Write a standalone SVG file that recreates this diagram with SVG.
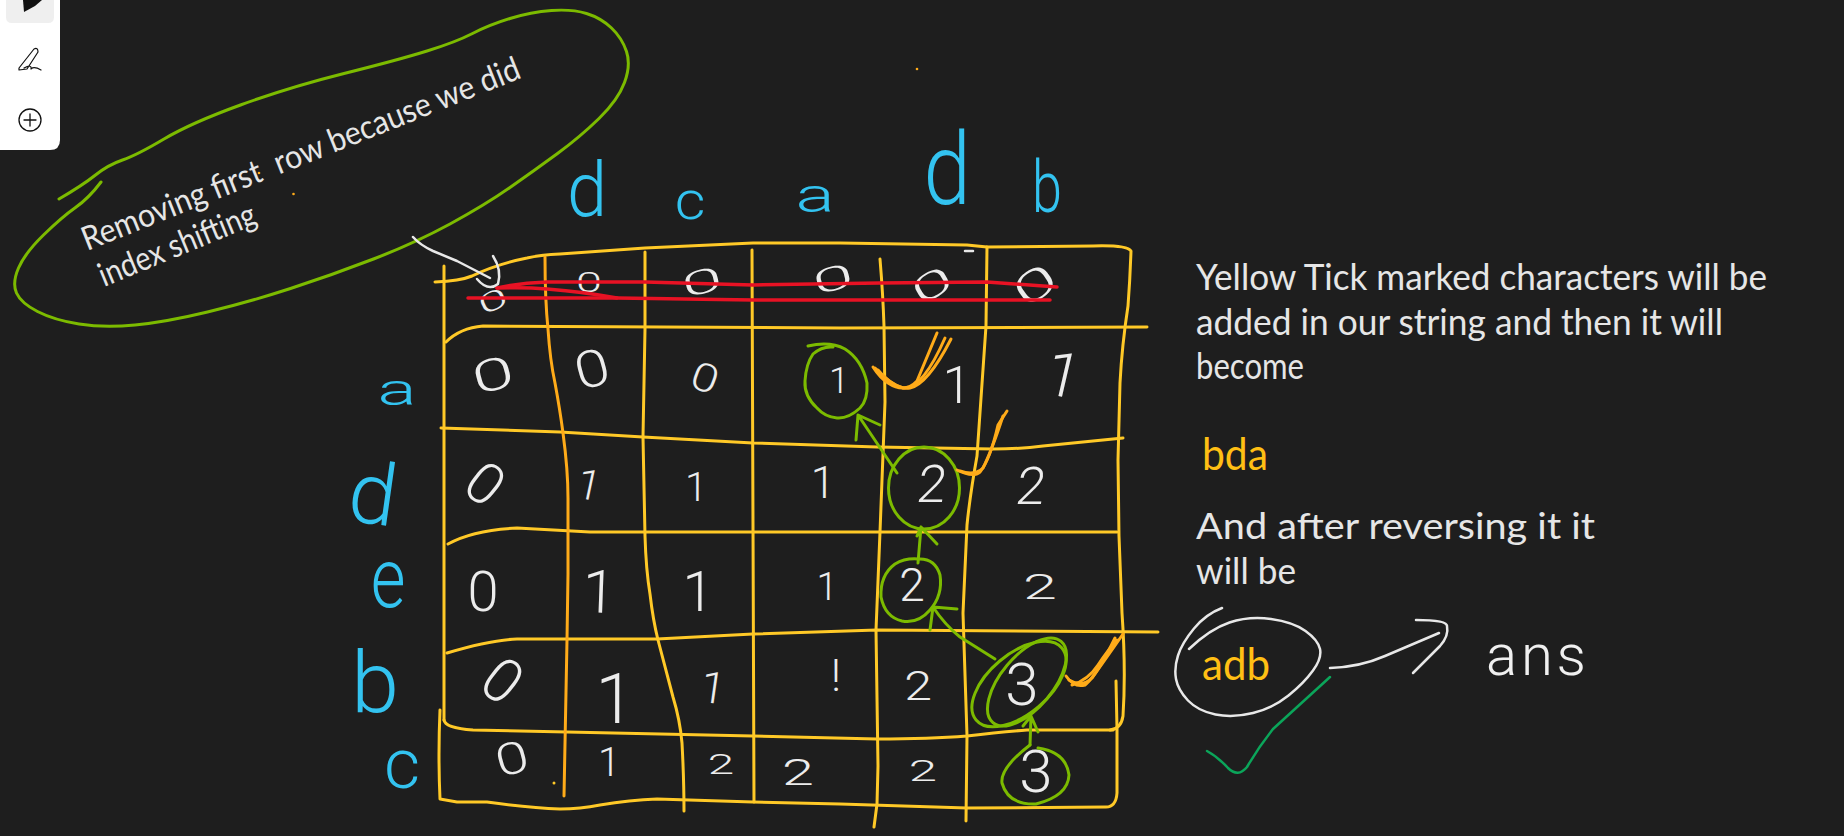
<svg xmlns="http://www.w3.org/2000/svg" width="1844" height="836" viewBox="0 0 1844 836">
<style>
.ink{fill:none;stroke-linecap:round;stroke-linejoin:round}
.y{stroke:#ffc927;stroke-width:3}
.o{stroke:#ffab19;stroke-width:3}
.g{stroke:#7cbb00;stroke-width:3}
.r{stroke:#e81224;stroke-width:3.5}
.w{stroke:#e8e8e8;stroke-width:2.5}
.t{font-family:"Lato","Liberation Sans",sans-serif;fill:#e6e6e6}
.n{font-family:"Roboto","Liberation Sans",sans-serif;font-weight:300;fill:#ececec;text-anchor:middle;dominant-baseline:central}
.b{font-family:"Roboto","Liberation Sans",sans-serif;font-weight:300;fill:#33c3f0;text-anchor:middle;dominant-baseline:central}
.a{font-family:"Lato","Liberation Sans",sans-serif;fill:#ffbf14}
</style>
<rect width="1844" height="836" fill="#1e1e1e"/>

<g id="toolbar">
<path d="M0 0H60V140Q60 150 50 150H0Z" fill="#fff"/>
<path d="M6 0H54V17Q54 23 48 23H12Q6 23 6 17Z" fill="#efefef"/>
<path d="M23 0H42L35 6L24 12Z" fill="#111"/>
<path class="ink" stroke="#111" stroke-width="1.2" d="M19 68L34 49Q38 47 38 52L27 69L19 70ZM24 68Q32 64 31 69Q34 66 41 70"/>
<circle cx="30" cy="120" r="11" fill="none" stroke="#111" stroke-width="1.3"/>
<path class="ink" stroke="#111" stroke-width="1.3" d="M24 120H36M30 114V126"/>
</g>

<g id="grid">
<path class="ink y" d="M435 282Q460 281 472 276Q497 264 527 258Q540 255 560 254L645 248L753 243L840 243L967 245L987 247L1093 246Q1127 245 1131 251Q1130 280 1128 306Q1122 345 1120 383L1118 460L1119 536L1122 613Q1126 670 1123 716Q1121 729 1110 730"/>
<path class="ink y" d="M446 342Q460 328 483 326L840 328L1147 327"/>
<path class="ink y" d="M441 428L560 432L643 437L753 443L877 447L993 449Q1020 449 1043 446L1123 438"/>
<path class="ink y" d="M448 544Q473 530 517 528L590 532L1117 532"/>
<path class="ink y" d="M447 653Q490 640 517 639L657 639L753 634L877 630L1158 632"/>
<path class="ink y" d="M444 720Q445 728 473 730L567 732L753 736L877 739Q930 739 967 736Q1000 732 1027 730L1113 730"/>
<path class="ink y" d="M440 710Q438 755 440 799L457 802L487 802Q530 808 560 809Q580 809 600 805Q630 800 657 799L753 802L840 804L967 808L1106 807Q1116 807 1117 793L1117 729L1116 681"/>
<path class="ink y" d="M444 266V720"/>
<path class="ink o" d="M545 257Q545 300 548 329Q550 360 555 383Q560 410 563 433Q568 470 568 498L568 574L567 640L564 796"/>
<path class="ink y" d="M645 252L645 329L643 437L645 536Q646 570 650 594Q653 620 658 640Q666 670 673 697Q680 720 682 743Q684 780 684 811"/>
<path class="ink y" d="M752 250L754 802"/>
<path class="ink y" d="M880 259Q883 295 884 326L885 402L880 532L876 630L878 766L877 804L874 827"/>
<path class="ink y" d="M987 247L986 326L977 456Q970 495 967 525L963 613L967 736L966 821"/>
<path class="ink w" stroke-width="2" d="M965 251H973"/>
</g>

<g id="cells">
<text class="n" font-size="38" transform="translate(493 301) rotate(-25) scale(1.4 .7)">0</text>
<text class="n" font-size="36" transform="translate(589 283) scale(1.3 .75)">0</text>
<text class="n" font-size="46" transform="translate(702 282) rotate(-15) scale(1.6 .72)">0</text>
<text class="n" font-size="46" transform="translate(833 279) rotate(-15) scale(1.6 .72)">0</text>
<text class="n" font-size="50" transform="translate(932 285) rotate(-30) scale(1.5 .72)">0</text>
<text class="n" font-size="58" transform="translate(1035 285) rotate(-35) scale(1.35 .72)">0</text>
<text class="n" font-size="52" transform="translate(493 375) rotate(-15) scale(1.45 .85)">0</text>
<text class="n" font-size="54" transform="translate(592 369) rotate(-15) scale(1.15 .95)">0</text>
<text class="n" font-size="46" transform="translate(705 378) rotate(20) scale(1.05 .85)">0</text>
<text class="n" font-size="36" x="839" y="381">1</text>
<text class="n" font-size="52" x="957" y="385">1</text>
<text class="n" font-size="62" transform="translate(1063 375) rotate(13)">1</text>
<text class="n" font-size="58" transform="translate(485 484) rotate(38) scale(1 1)">0</text>
<text class="n" font-size="42" transform="translate(589 485) rotate(12)">1</text>
<text class="n" font-size="40" x="696" y="487">1</text>
<text class="n" font-size="44" x="823" y="483">1</text>
<text class="n" font-size="52" transform="translate(932 485) skewX(-8)">2</text>
<text class="n" font-size="52" transform="translate(1031 487) skewX(-8)">2</text>
<text class="n" font-size="56" x="483" y="592">0</text>
<text class="n" font-size="60" transform="translate(599 592) rotate(2)">1</text>
<text class="n" font-size="56" x="698" y="592">1</text>
<text class="n" font-size="38" x="827" y="587">1</text>
<text class="n" font-size="46" x="912" y="585">2</text>
<text class="n" font-size="36" transform="translate(1040 586) scale(1.7 1)">2</text>
<text class="n" font-size="62" transform="translate(502 681) rotate(38) scale(.95 1)">0</text>
<text class="n" font-size="70" x="615" y="699">1</text>
<text class="n" font-size="44" transform="translate(713 688) rotate(8)">1</text>
<text class="n" font-size="44" x="836" y="676">!</text>
<text class="n" font-size="40" transform="translate(918 686) scale(1.25 1)">2</text>
<text class="n" font-size="60" x="1022" y="684">3</text>
<text class="n" font-size="44" transform="translate(512 759) rotate(-15) scale(1.35 1)">0</text>
<text class="n" font-size="40" x="609" y="762">1</text>
<text class="n" font-size="28" transform="translate(721 765) scale(1.7 1)">2</text>
<text class="n" font-size="36" transform="translate(798 773) scale(1.6 1)">2</text>
<text class="n" font-size="30" transform="translate(923 771) scale(1.7 1)">2</text>
<text class="n" font-size="60" x="1036" y="771">3</text>
</g>

<g id="strike">
<path class="ink r" d="M497 288Q520 283 547 282L645 282L753 285L880 283L987 282L1057 287"/>
<path class="ink r" d="M468 298L617 298L753 300L1050 300"/>
<path class="ink r" d="M497 288Q525 287 547 289Q585 292 617 298"/>
</g>

<g id="col-labels">
<text class="b" font-size="76" transform="translate(587 190) scale(.95 1)">d</text>
<text class="b" font-size="54" transform="translate(690 200) scale(1.1 1)">c</text>
<text class="b" font-size="56" transform="translate(815 196) scale(1.3 .85)">a</text>
<text class="b" font-size="100" transform="translate(947 170) scale(.85 1)">d</text>
<text class="b" font-size="72" transform="translate(1047 188) scale(.75 1)">b</text>
</g>
<g id="row-labels">
<text class="b" font-size="56" transform="translate(397 390) scale(1.3 .8)">a</text>
<text class="b" font-size="86" transform="translate(373 494) rotate(8)">d</text>
<text class="b" font-size="84" transform="translate(388 578) scale(.8 1)">e</text>
<text class="b" font-size="86" transform="translate(375 682)">b</text>
<text class="b" font-size="70" x="402" y="764">c</text>
</g>

<g id="note">
<path class="ink g" d="M59 199Q83 185 95.500 175Q108 165 122.500 160Q137 155 164 139Q191 123 240.500 105Q290 87 344 73.500Q398 60 427 51Q456 42 472.500 33.500Q489 25 510 18.500Q531 12 551.500 10.500Q572 9 586.500 13.500Q601 18 611.500 28Q622 38 626.500 51.500Q631 65 624.500 82.500Q618 100 599 118.500Q580 137 557.500 153.500Q535 170 510 187.500Q485 205 450 224Q415 243 373.500 259Q332 275 290.500 288.500Q249 302 207.500 312Q166 322 135 325Q104 328 79 324Q54 320 37.500 311.500Q21 303 16.500 293Q12 283 18.500 268Q25 253 43.500 235Q62 217 75.500 207.500Q89 198 101 182"/>
<text class="t" font-size="33" transform="translate(87 251) rotate(-21.700)" textLength="469" lengthAdjust="spacingAndGlyphs" xml:space="preserve">Removing first  row because we did</text>
<text class="t" font-size="33" transform="translate(104 287) rotate(-22.400)" textLength="167" lengthAdjust="spacingAndGlyphs">index shifting</text>
<circle cx="259" cy="173" r="1.300" fill="#ffab19"/>
<circle cx="293.500" cy="194" r="1.300" fill="#ffab19"/>
<circle cx="917" cy="69" r="1.300" fill="#ffab19"/>
<circle cx="554" cy="783" r="1.500" fill="#ffc927"/>
</g>

<g id="circles">
<path class="ink g" d="M808 346Q830 341 845 349Q862 360 867 383Q868 400 860 408Q848 419 837 418Q825 417 817 408Q804 396 805 381Q806 364 813 354Q822 346 833 347"/>
<ellipse class="ink g" cx="924" cy="488" rx="35.500" ry="41"/>
<path class="ink g" d="M918 559Q935 558 940 575Q943 595 930 610Q918 624 902 621Q885 617 881 597Q880 575 895 564Q905 558 918 559"/>
<ellipse class="ink g" cx="1019" cy="684" rx="56" ry="30" transform="rotate(-40 1019 684)"/>
<ellipse class="ink g" cx="1027" cy="682" rx="53" ry="26" transform="rotate(-50 1027 682)"/>
<path class="ink g" d="M1038 748Q1066 752 1069 775Q1068 796 1036 804Q1008 805 1002 783Q1000 768 1030 745"/>
</g>

<g id="ticks">
<path class="ink o" d="M873 367Q880 378 888 383Q905 394 917 381L937 333"/>
<path class="ink o" d="M875 368Q890 384 903 388Q922 390 945 338"/>
<path class="ink o" d="M878 370Q895 390 910 388Q928 384 951 339"/>
<path class="ink o" d="M957 470Q973 478 980 472Q990 460 998 425L1007 411"/>
<path class="ink o" d="M960 471Q975 476 983 468Q992 450 1003 416"/>
<path class="ink o" d="M1066 676Q1074 688 1085 685Q1097 675 1115 638"/>
<path class="ink o" d="M1069 680Q1082 688 1092 678Q1105 660 1123 634"/>
<path class="ink o" d="M1072 685Q1088 680 1098 665Q1108 650 1117 640"/>
</g>

<g id="connectors">
<path class="ink w" d="M413 237Q420 245 433 251L457 261L490 278"/>
<path class="ink w" d="M493 256Q502 270 498 284Q488 292 477 279"/>
<path class="ink g" d="M897 473L858 415M856 440L858 415L880 425"/>
<path class="ink g" d="M918 563L921 527M917 536L921 527L937 544"/>
<path class="ink g" d="M995 659L960 637Q945 625 933 607M930 630L933 607L957 609"/>
<path class="ink g" d="M1030 745L1031 716M1023 726L1031 716L1038 732"/>
<path class="ink w" d="M1330 668Q1360 667 1385 656L1439 633M1416 620Q1447 620 1447 626Q1449 636 1440 646L1413 673"/>
</g>

<g id="explanation">
<text class="t" font-size="36" x="1196" y="290" textLength="571" lengthAdjust="spacingAndGlyphs">Yellow Tick marked characters will be</text>
<text class="t" font-size="36" x="1196" y="335" textLength="527" lengthAdjust="spacingAndGlyphs">added in our string and then it will</text>
<text class="t" font-size="36" x="1196" y="379" textLength="108" lengthAdjust="spacingAndGlyphs">become</text>
<text class="a" font-size="44" x="1202" y="470" textLength="66" lengthAdjust="spacingAndGlyphs">bda</text>
<text class="t" font-size="36" x="1196" y="539" textLength="399" lengthAdjust="spacingAndGlyphs">And after reversing it it</text>
<text class="t" font-size="36" x="1196" y="584" textLength="100" lengthAdjust="spacingAndGlyphs">will be</text>
</g>

<g id="answer">
<path class="ink w" d="M1189 649Q1210 629 1229.500 622.500Q1249 616 1271 619Q1293 622 1305.500 631Q1318 640 1320 649Q1322 658 1313 670.500Q1304 683 1288.500 695.500Q1273 708 1253 713Q1233 718 1215.500 714.500Q1198 711 1188 700.500Q1178 690 1176 679Q1174 668 1178 655.500Q1182 643 1194 628.500Q1206 614 1222 608"/>
<text class="a" font-size="44" x="1202" y="680" textLength="68" lengthAdjust="spacingAndGlyphs">adb</text>
<path class="ink" stroke="#0ba55a" stroke-width="2.500" d="M1330 677L1273 729Q1258 748 1247 767Q1238 778 1228 768Q1218 757 1207 751"/>
</g>
<g id="ans">
<text class="n" style="fill:#f0f0f0" font-size="58" x="1536" y="655" textLength="100" lengthAdjust="spacing">ans</text>
</g>
</svg>
